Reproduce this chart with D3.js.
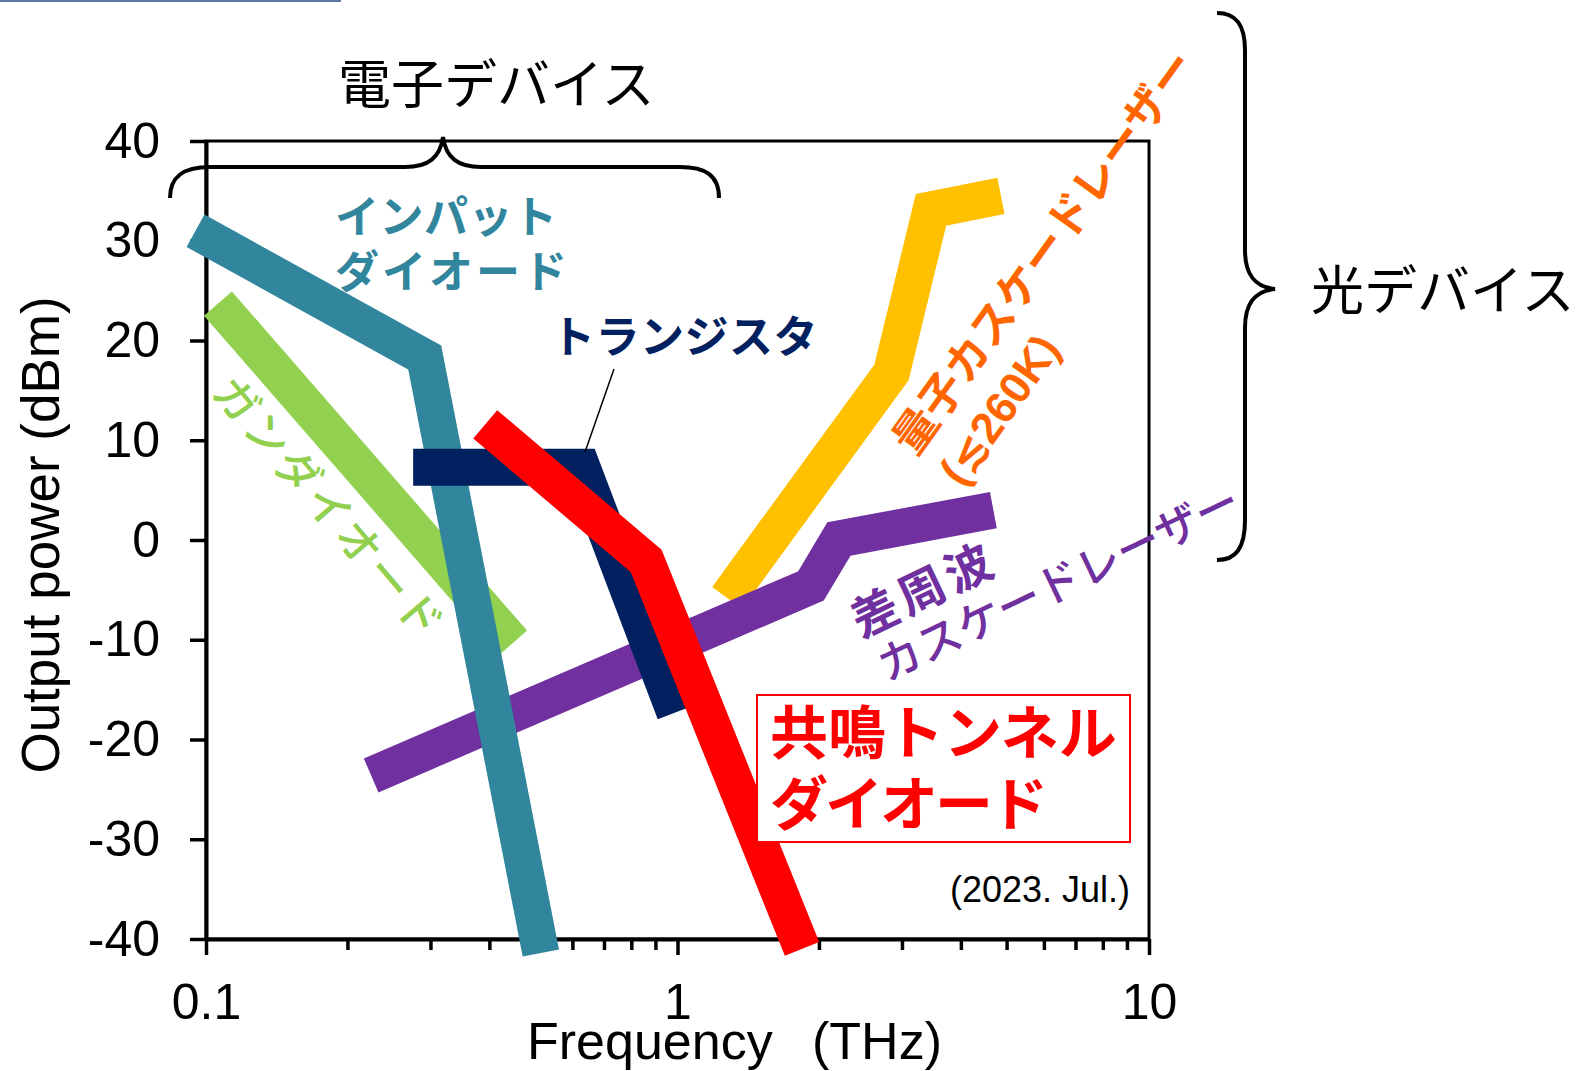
<!DOCTYPE html>
<html><head><meta charset="utf-8">
<script src="https://cdn.jsdelivr.net/npm/d3@7"></script>
<style>body{margin:0;background:#fff} svg{display:block}</style>
</head><body>
<svg id="chart" width="1584" height="1071"></svg>
<script>
// ---------- data ----------
const xMajorTicks = [0.1, 1, 10];
const xMajorLabels = ["0.1", "1", "10"];
const xMinorTicks = [0.2,0.3,0.4,0.5,0.6,0.7,0.8,0.9,2,3,4,5,6,7,8,9];
const yTicks = [-40,-30,-20,-10,0,10,20,30,40];

const impattFreq = [0.095, 0.291, 0.513];
const impattPower = [31.0, 18.3, -41.4];
const gunnFreq = [0.106, 0.448];
const gunnPower = [23.7, -10.3];
const transistorFreq = [0.275, 0.627, 0.988];
const transistorPower = [7.3, 7.3, -17.3];
const rtdFreq = [0.391, 0.858, 1.837];
const rtdPower = [11.6, -2.1, -41.0];
const dfgFreq = [0.224, 1.919, 2.2, 4.677];
const dfgPower = [-23.6, -4.6, 0.1, 3.0];
const qclFreq = [1.274, 2.844, 3.448, 4.853];
const qclPower = [-5.8, 16.8, 33.1, 34.5];

// ---------- chart ----------
const svg = d3.select("#chart");
const LAT = "'Liberation Sans', Arial, sans-serif";
const JP = "'Noto Sans CJK JP', 'Noto Sans CJK SC', sans-serif";

const x = d3.scaleLog().domain([0.1, 10]).range([206, 1149]);
const y = d3.scaleLinear().domain([-40, 40]).range([939, 141]);

// thin blue line at top-left
svg.append("rect").attr("x",0).attr("y",0).attr("width",341).attr("height",2).attr("fill","#5B7BA3");

// frame
svg.append("rect").attr("x",206).attr("y",141).attr("width",943).attr("height",798)
  .attr("fill","none").attr("stroke","#000").attr("stroke-width",3);

// y axis
const gy = svg.append("g").attr("transform","translate(206,0)")
  .call(d3.axisLeft(y).tickValues(yTicks).tickFormat(d => String(d))
    .tickSizeInner(16).tickSizeOuter(0).tickPadding(30));
gy.attr("font-family", LAT).attr("font-size", 50);
gy.select(".domain").attr("stroke-width", 4);
gy.selectAll(".tick line").attr("stroke-width", 3.5);
gy.selectAll(".tick text").attr("fill","#000");

// x axis
const gx = svg.append("g").attr("transform","translate(0,939)")
  .call(d3.axisBottom(x).tickValues(xMajorTicks).tickFormat((d,i) => xMajorLabels[i])
    .tickSizeInner(16).tickSizeOuter(0).tickPadding(28));
gx.attr("font-family", LAT).attr("font-size", 50);
gx.select(".domain").attr("stroke-width", 4);
gx.selectAll(".tick line").attr("stroke-width", 3.5);
gx.selectAll(".tick text").attr("fill","#000");
svg.append("g").attr("transform","translate(0,939)")
  .selectAll("line").data(xMinorTicks).join("line")
  .attr("x1", d => x(d)).attr("x2", d => x(d)).attr("y1", 0).attr("y2", 11)
  .attr("stroke","#000").attr("stroke-width",3.5);

// axis titles
svg.append("text").attr("x",527).attr("y",1059).attr("font-family",LAT).attr("font-size",52).text("Frequency");
svg.append("text").attr("x",812).attr("y",1059).attr("font-family",LAT).attr("font-size",52).text("(THz)");
svg.append("text").attr("transform","translate(59,535) rotate(-90)").attr("text-anchor","middle")
  .attr("font-family",LAT).attr("font-size",53).text("Output power (dBm)");

// series bands (drawing order bottom -> top)
const series = [
  {f: qclFreq, p: qclPower, color: "#FFC000"},
  {f: dfgFreq, p: dfgPower, color: "#7030A0"},
  {f: gunnFreq, p: gunnPower, color: "#92D050"},
  {f: impattFreq, p: impattPower, color: "#31859C"},
  {f: transistorFreq, p: transistorPower, color: "#002060"},
  {f: rtdFreq, p: rtdPower, color: "#FF0000"}
];
const line = d3.line().x(d => x(d[0])).y(d => y(d[1]));
svg.append("g").selectAll("path").data(series).join("path")
  .attr("d", s => line(s.f.map((v,i) => [v, s.p[i]])))
  .attr("fill","none").attr("stroke", s => s.color).attr("stroke-width", 37)
  .attr("stroke-linecap","butt").attr("stroke-linejoin","miter");

// braces
svg.append("path")
  .attr("d","M170,198 C170,175 185,167 210,167 L405,167 C428,167 440,158 443,137 C446,158 458,167 481,167 L680,167 C705,167 719,175 719,198")
  .attr("fill","none").attr("stroke","#000").attr("stroke-width",4);
svg.append("path")
  .attr("d","M1217,13 C1236,13 1245,25 1245,50 L1245,250 C1245,275 1255,287 1275,289 C1255,291 1245,303 1245,328 L1245,520 C1245,548 1236,560 1217,560")
  .attr("fill","none").attr("stroke","#000").attr("stroke-width",4);

function txt(t, px, py, size, color, weight, family, anchor, ls) {
  return svg.append("text").attr("x",px).attr("y",py).attr("font-size",size)
    .attr("fill",color).attr("font-weight",weight||"normal")
    .attr("font-family",family||JP).attr("text-anchor",anchor||"start")
    .attr("letter-spacing", ls||0).text(t);
}

// group titles
txt("電子デバイス", 338, 104, 53, "#000");
txt("光デバイス", 1311, 310, 53, "#000");

// labels
txt("インパット", 335, 233, 44, "#31859C", "bold", JP, "start", 0.5);
txt("ダイオード", 335, 288, 44, "#31859C", "bold", JP, "start", 3);
txt("トランジスタ", 551, 353, 44, "#002060", "bold", JP, "start", 0.5);
svg.append("line").attr("x1",614).attr("y1",369).attr("x2",585).attr("y2",452)
  .attr("stroke","#000").attr("stroke-width",1.5);

// RTD box
svg.append("rect").attr("x",757).attr("y",695).attr("width",373).attr("height",147)
  .attr("fill","#fff").attr("stroke","#FF0000").attr("stroke-width",2);
txt("共鳴トンネル", 770, 754, 58, "#FF0000", "bold");
txt("ダイオード", 770, 825, 58, "#FF0000", "bold", JP, "start", -3);

txt("(2023. Jul.)", 1130, 902, 36, "#000", "normal", LAT, "end");

// rotated labels
function rot(cx, cy, angle) {
  return svg.append("g").attr("transform", `translate(${cx},${cy}) rotate(${angle})`);
}
rot(238, 400, 49.6).append("text").attr("x",-23).attr("y",16.7)
  .attr("font-family",JP).attr("font-size",44).attr("font-weight",500)
  .attr("letter-spacing",3).attr("fill","#92D050").text("ガンダイオード");

const gq = rot(915, 430, -54.4);
gq.append("text").attr("x",-22).attr("y",16.7).attr("font-family",JP).attr("font-size",44)
  .attr("font-weight","bold").attr("fill","#FF6600").text("量子カスケードレーザー");
gq.append("text").attr("x",-20).attr("y",72).attr("font-family",LAT+", 'DejaVu Sans', "+JP).attr("font-size",44)
  .attr("font-weight","bold").attr("fill","#FF6600").text("(≲260K)");

const gd = rot(877, 611, -25.5);
gd.append("text").attr("x",-26).attr("y",17.8).attr("font-family",JP).attr("font-size",47)
  .attr("font-weight","bold").attr("letter-spacing",4.7).attr("fill","#7030A0").text("差周波");
gd.append("text").attr("x",-22).attr("y",68.7).attr("font-family",JP).attr("font-size",44)
  .attr("font-weight",500).attr("fill","#7030A0").text("カスケードレーザー");
</script></body></html>
